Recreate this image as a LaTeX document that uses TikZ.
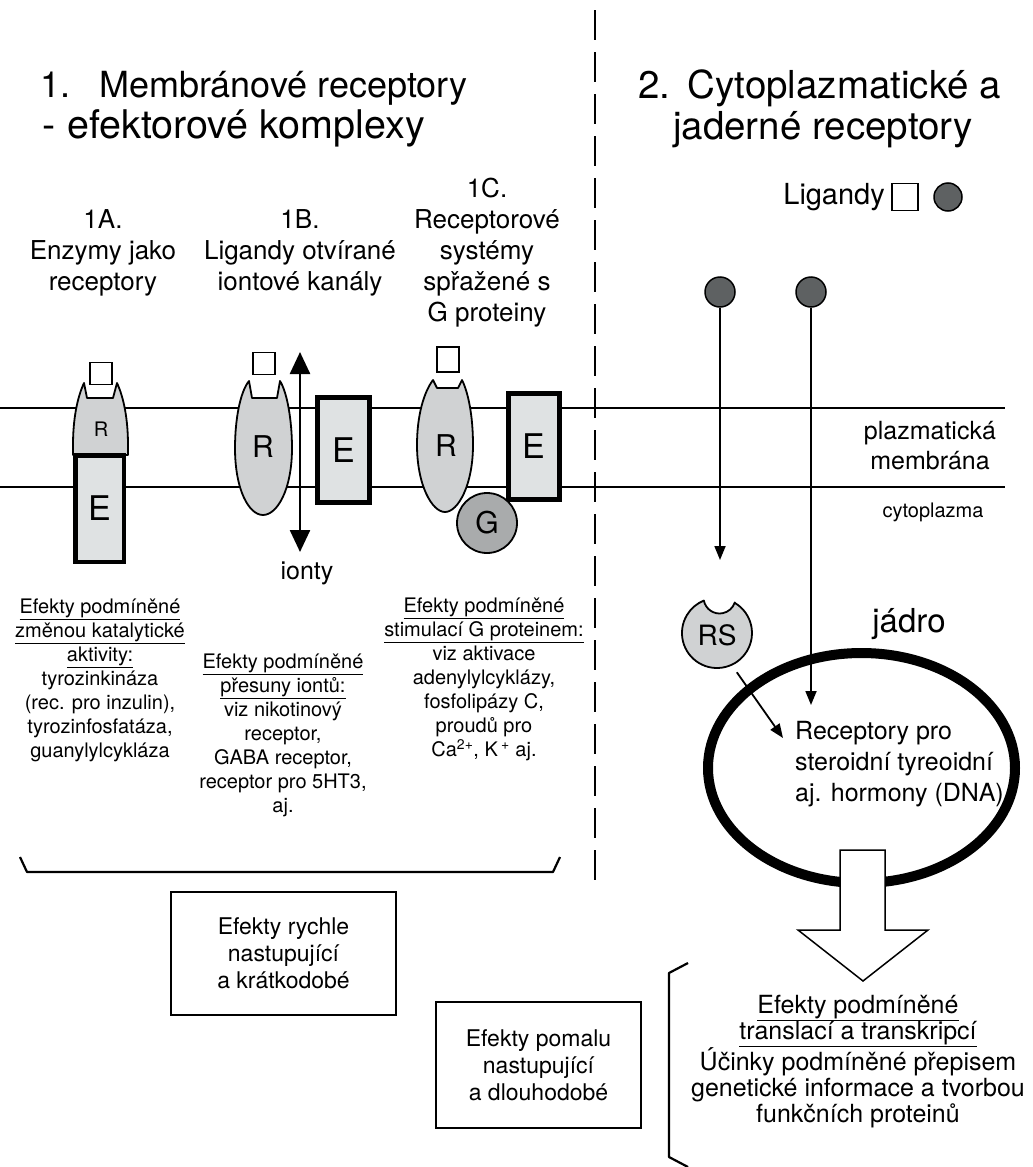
\documentclass[tikz,border=0pt]{standalone}
\usepackage{fontspec}
\setmainfont{TeX Gyre Heros}
\usetikzlibrary{arrows.meta,shapes.geometric}
\definecolor{rgray}{HTML}{D0D2D3}
\definecolor{egray}{HTML}{DFE2E3}
\definecolor{ggray}{HTML}{A9ABAC}
\definecolor{ldark}{HTML}{5E6162}
\newcommand{\fsz}[2]{\fontsize{#1}{#2}\selectfont}
\begin{document}
\begin{tikzpicture}[x=1pt,y=-1pt,
  membrane/.style={line width=2pt},
  divider/.style={line width=2.4pt, dash pattern=on 30pt off 12pt},
  rshape/.style={draw, line width=1.8pt, fill=rgray, line join=round},
  ebox/.style={draw, line width=4.5pt, fill=egray, inner sep=0pt, font=\fsz{34}{40}},
  rlab/.style={font=\fsz{30}{36}, inner sep=0pt},
  ligsq/.style={draw, line width=1.3pt, fill=white, minimum size=22pt, inner sep=0pt},
  ligc/.style={draw, circle, line width=1.5pt, fill=ldark, minimum size=30pt, inner sep=0pt},
  head/.style={font=\fsz{36}{40}, inner sep=0pt, anchor=west},
  lab/.style={font=\fsz{26}{31}, align=center, inner sep=0pt, anchor=north},
  eff/.style={font=\fsz{20}{24}, align=center, inner sep=0pt, anchor=north},
  box/.style={draw, line width=1.5pt, font=\fsz{23}{27}, align=center, inner sep=0pt},
  arr/.style={line width=1.8pt, -{Triangle[length=14pt,width=11pt]}},
  bracket/.style={line width=2.2pt, line join=round},
]
\useasboundingbox[fill=white] (0,0) rectangle (1033,1167);

% membranes and divider
\draw[membrane] (0,408) -- (1005,408);
\draw[membrane] (0,487) -- (1005,487);
\draw[divider] (595,10) -- (595,885);

% headings
\node[head] (h1a) at (40,88) {1.\hspace{0.8em}Membránové receptory};
\node[head, font=\fsz{39.5}{42}] (h1b) at (42,128) {-\hspace{0.3em}efektorové komplexy};
\node[head, font=\fsz{38.5}{42}] (h2a) at (638,88) {2.\hspace{0.45em}Cytoplazmatické a};
\node[head, font=\fsz{38.5}{42}] (h2b) at (673,130) {jaderné receptory};

% column labels
\node[lab] (l1a) at (103,209) {1A.\\Enzymy jako\\receptory};
\node[lab] (l1b) at (300,209) {1B.\\Ligandy otvírané\\iontové kanály};
\node[lab] (l1c) at (487,178) {1C.\\Receptorové\\systémy\\spřažené s\\G proteiny};

% 1A receptor
\draw[rshape] (87,398) -- (84,383) .. controls (77,398) and (73,420) .. (73,445) -- (73,455) -- (128,455) -- (128,445) .. controls (128,420) and (124,398) .. (117,383) -- (113,398) -- cycle;
\node[ebox, minimum width=48.5pt, minimum height=106.5pt] (e1a) at (99.5,508.5) {E};
\node[rlab, font=\fsz{20}{24}] (r1a) at (101,429) {R};
\node[ligsq] (sq1a) at (101,373.5) {};

% 1B receptor
\draw[rshape] (252,398) -- (249,381) .. controls (240,392) and (235,420) .. (235,448) .. controls (235,490) and (249,515) .. (263,515) .. controls (277,515) and (292,490) .. (292,448) .. controls (292,420) and (287,392) .. (280,381) -- (277,398) -- cycle;
\node[rlab] (r1b) at (263,447) {R};
\node[ligsq] (sq1b) at (264,363.5) {};
\coordinate (ion1) at (300,352);
\coordinate (ion2) at (300,552);
\draw[line width=2.5pt, {Triangle[length=22pt,width=20pt]}-{Triangle[length=22pt,width=20pt]}] (ion1) -- (ion2);
\node[ebox, minimum width=52pt, minimum height=105pt] (e1b) at (343.5,450) {E};
\node[font=\fsz{25}{28}, inner sep=0pt] (ionty) at (307,573) {ionty};

% 1C receptor
\draw[rshape] (437,388) -- (433,380) .. controls (424,392) and (417,415) .. (417,445) .. controls (417,485) and (432,512) .. (445,512) .. controls (458,512) and (473,485) .. (473,445) .. controls (473,415) and (468,392) .. (462,380) -- (458,388) -- cycle;
\node[rlab] (r1c) at (446,446) {R};
\node[ligsq, minimum height=25pt] (sq1c) at (448,359.5) {};
\node[ebox, minimum width=51pt, minimum height=106pt] (e1c) at (534,446.5) {E};
\node[draw, circle, line width=1.8pt, fill=ggray, minimum size=60pt, inner sep=0pt, font=\fsz{30}{36}] (g) at (487,523) {G};

% effect texts
\node[eff] (x1a) at (100,599) {\underline{Efekty podmíněné}\\\underline{změnou katalytické}\\\underline{aktivity:}\\tyrozinkináza\\(rec. pro inzulin),\\tyrozinfosfatáza,\\guanylylcykláza};
\node[eff] (x1b) at (283,654) {\underline{Efekty podmíněné}\\\underline{přesuny iontů:}\\viz nikotinový\\receptor,\\GABA receptor,\\receptor pro 5HT3,\\aj.};
\node[eff] (x1c) at (484,598) {\underline{Efekty podmíněné}\\\underline{stimulací G proteinem:}\\viz aktivace\\adenylylcyklázy,\\fosfolipázy C,\\proudů pro\\Ca\textsuperscript{2+}, K\,\textsuperscript{+} aj.};

% bracket and boxes
\draw[bracket] (20,857) -- (27,872) -- (553,872) -- (560,857);
\node[box, minimum width=225pt, minimum height=123pt] (fast) at (283.5,953.5) {Efekty rychle\\nastupující\\a krátkodobé};
\node[box, minimum width=205pt, minimum height=126pt] (slow) at (538.5,1065) {Efekty pomalu\\nastupující\\a dlouhodobé};

% right side
\node[anchor=east, font=\fsz{29}{32}, inner sep=0pt] (ligt) at (885,197) {Ligandy};
\node[ligsq, minimum width=26pt, minimum height=27pt, line width=1.5pt] (lsq) at (905,197) {};
\node[ligc, minimum size=28pt] (lcir) at (948,197) {};

\node[font=\fsz{25}{30}, align=center, inner sep=0pt, anchor=north] (pm) at (930,421) {plazmatická\\membrána};
\node[font=\fsz{20}{24}, inner sep=0pt] (cyto) at (933,512) {cytoplazma};

\node[draw, ellipse, line width=10pt, minimum width=307pt, minimum height=230pt, inner sep=0pt] (nuc) at (861.5,768) {};
\draw[line width=1.5pt, fill=white] (840,850) -- (885,850) -- (885,930) -- (928,930) -- (863,981) -- (798,930) -- (840,930) -- cycle;
\node[font=\fsz{33}{36}, inner sep=0pt] (jadro) at (909,624) {jádro};
\node[font=\fsz{25}{31}, align=left, inner sep=0pt, anchor=north west] (ntext) at (795,721) {Receptory pro\\steroidní tyreoidní\\aj. hormony (DNA)};

\node[ligc] (lc1) at (720,292) {};
\node[ligc] (lc2) at (811,292) {};
\coordinate (e1) at (720,560);
\coordinate (e2) at (811,705);
\draw[arr] (lc1) -- (e1);
\draw[arr] (lc2) -- (e2);

\draw[rshape] (735,603) arc[start angle=-59, end angle=248, radius=35] arc[start angle=169, end angle=18, radius=16] -- cycle;
\node[circle, minimum size=84pt, inner sep=0pt, font=\fsz{28}{34}] (rs) at (717,635) {RS};
\coordinate (recv) at (783,738);
\draw[arr] (rs.-62) -- (recv);

\draw[bracket] (688,963) -- (669,973) -- (669,1157) -- (688,1167);
\node[eff, font=\fsz{25}{26}] (rtext) at (858,995) {\underline{Efekty podmíněné}\\\underline{translací a transkripcí}\\Účinky podmíněné přepisem\\genetické informace a tvorbou\\funkčních proteinů};
\end{tikzpicture}
\end{document}
